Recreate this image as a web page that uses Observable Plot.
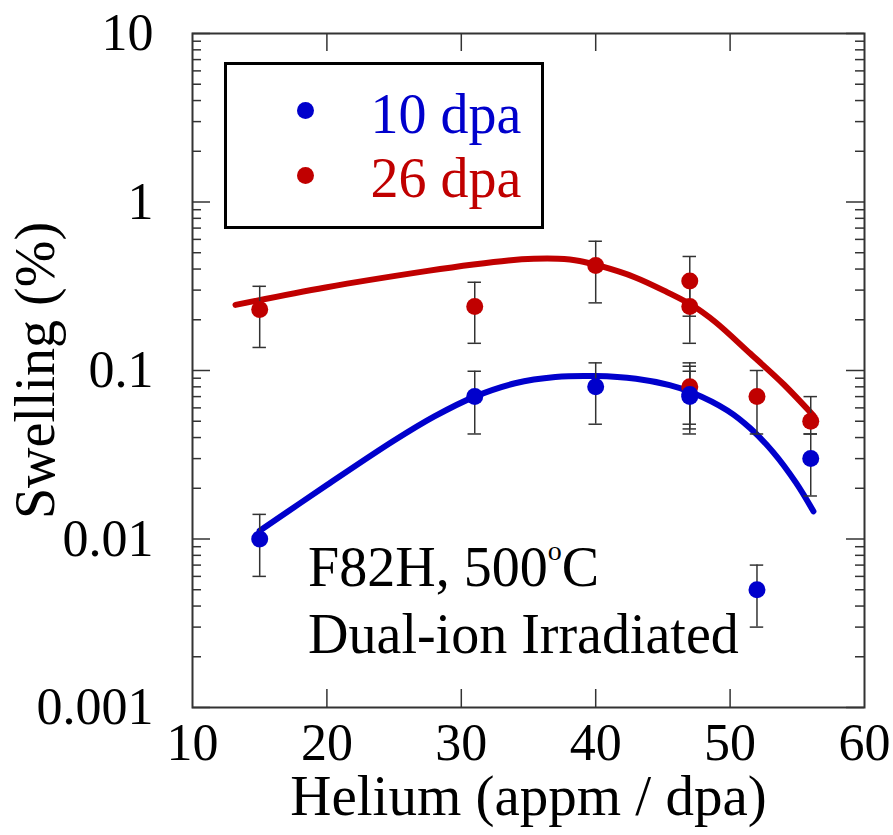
<!DOCTYPE html>
<html>
<head>
<meta charset="utf-8">
<script src="https://cdn.jsdelivr.net/npm/d3@7"></script>
<script src="https://cdn.jsdelivr.net/npm/@observablehq/plot@0.6"></script>
<style>
  html, body { margin: 0; padding: 0; background: #fff; }
  #chart svg { display: block; }
</style>
</head>
<body>
<div id="chart"></div>
<script>
// ---- measured swelling, 10 dpa series ----
const heliumBlue = [15, 31, 40, 47, 47, 52, 56];
const swellBlue  = [0.01, 0.07, 0.08, 0.07, 0.072, 0.005, 0.03];
const errLoBlue  = [0.006, 0.042, 0.048, 0.042, 0.045, 0.003, 0.018];
const errHiBlue  = [0.014, 0.099, 0.111, 0.099, 0.106, 0.007, 0.042];

// ---- measured swelling, 26 dpa series ----
const heliumRed = [15, 31, 40, 47, 47, 47, 52, 56];
const swellRed  = [0.23, 0.24, 0.42, 0.34, 0.24, 0.08, 0.07, 0.05];
const errLoRed  = [0.137, 0.145, 0.252, 0.21, 0.145, 0.048, 0.042, 0.042];
const errHiRed  = [0.316, 0.334, 0.585, 0.475, 0.33, 0.111, 0.1, 0.07];

// ---- fitted trend curves ----
const fitXBlue = [15, 20, 25, 28, 31, 34, 37, 40, 43, 45.5, 47.2, 49.8, 51.5, 53.2, 54.9, 56.2];
const fitYBlue = [0.0112, 0.0209, 0.0384, 0.0534, 0.070, 0.084, 0.0915, 0.0927, 0.0893, 0.0818, 0.0738, 0.0579, 0.0454, 0.0328, 0.0216, 0.0146];
const fitXRed = [13.2, 19.9, 27.5, 30.9, 33.5, 35.4, 37.2, 38.8, 40.2, 42.9, 45.3, 47.2, 48.9, 51.5, 54.0, 56.2];
const fitYRed = [0.245, 0.311, 0.39, 0.426, 0.45, 0.46, 0.46, 0.447, 0.42, 0.358, 0.292, 0.243, 0.194, 0.126, 0.0826, 0.054];

// ---- axes ----
const xTicks = [10, 20, 30, 40, 50, 60];
const xTickLabels = ["10", "20", "30", "40", "50", "60"];
const yTicks = [0.001, 0.01, 0.1, 1, 10];
const yTickLabels = ["0.001", "0.01", "0.1", "1", "10"];
const xTitle = "Helium (appm / dpa)";
const yTitle = "Swelling (%)";
const noteLines = ["F82H, 500\u00b0C", "Dual-ion Irradiated"];
const noteAt = {x: 18.6, y: 0.0021};

const seriesNames = ["10 dpa", "26 dpa"];
const seriesColors = ["#0000cc", "#c00000"];

// ---- layout ----
const W = 893, H = 835;
const margin = {top: 33, right: 29, bottom: 128, left: 192};
const frameW = W - margin.left - margin.right;
const frameH = H - margin.top - margin.bottom;
const serif = "'Liberation Serif', 'Times New Roman', Times, serif";
const axisInk = "#333";
const noteSize = 56;

const series = [
  {name: seriesNames[0], color: seriesColors[0], helium: heliumBlue, swell: swellBlue, lo: errLoBlue, hi: errHiBlue, fitX: fitXBlue, fitY: fitYBlue},
  {name: seriesNames[1], color: seriesColors[1], helium: heliumRed, swell: swellRed, lo: errLoRed, hi: errHiRed, fitX: fitXRed, fitY: fitYRed}
];
const rows = s => s.helium.map((x, i) => ({x, y: s.swell[i], lo: s.lo[i], hi: s.hi[i]}));
const fitRows = s => s.fitX.map((x, i) => ({x, y: s.fitY[i]}));

// minor log ticks 2..9 in each decade
const yMinor = [];
for (const d of [0.001, 0.01, 0.1, 1]) for (let k = 2; k <= 9; ++k) yMinor.push(d * k);
const xInner = xTicks.slice(1, -1);

const capHalf = 0.5;
const allPoints = series.flatMap(rows);

const chart = Plot.plot({
  width: W,
  height: H,
  marginTop: margin.top,
  marginRight: margin.right,
  marginBottom: margin.bottom,
  marginLeft: margin.left,
  axis: null,
  x: {type: "linear", domain: [10, 60]},
  y: {type: "log", domain: [0.001, 10]},
  style: {fontFamily: serif, color: "#000", background: "#fff", overflow: "visible"},
  marks: [
    // inward tick marks on all four sides
    Plot.tickY(yTicks, {y: d => d, insetRight: frameW - 18, stroke: axisInk, strokeWidth: 1.5}),
    Plot.tickY(yTicks, {y: d => d, insetLeft: frameW - 18, stroke: axisInk, strokeWidth: 1.5}),
    Plot.tickY(yMinor, {y: d => d, insetRight: frameW - 9, stroke: axisInk, strokeWidth: 1.5}),
    Plot.tickY(yMinor, {y: d => d, insetLeft: frameW - 9, stroke: axisInk, strokeWidth: 1.5}),
    Plot.tickX(xInner, {x: d => d, insetTop: frameH - 18, stroke: axisInk, strokeWidth: 1.5}),
    Plot.tickX(xInner, {x: d => d, insetBottom: frameH - 18, stroke: axisInk, strokeWidth: 1.5}),

    // tick labels
    Plot.text(yTicks, {y: d => d, text: (d, i) => yTickLabels[i], frameAnchor: "left", dx: -39, textAnchor: "end", fontSize: 52, fontFamily: serif}),
    Plot.text(xTicks, {x: d => d, text: (d, i) => xTickLabels[i], frameAnchor: "bottom", dy: 16, lineAnchor: "top", fontSize: 52, fontFamily: serif}),

    // axis titles
    Plot.text([xTitle], {frameAnchor: "bottom", dy: 107, lineAnchor: "bottom", textAnchor: "middle", fontSize: 57, fontFamily: serif}),
    Plot.text([yTitle], {frameAnchor: "left", dx: -139, rotate: -90, lineAnchor: "bottom", textAnchor: "middle", fontSize: 56, fontFamily: serif}),

    // fitted curves
    ...series.map(s => Plot.line(fitRows(s), {x: "x", y: "y", stroke: s.color, strokeWidth: 6, curve: "catmull-rom"})),

    // error bars with caps
    Plot.ruleX(allPoints, {x: "x", y1: "lo", y2: "hi", stroke: axisInk, strokeWidth: 1.5}),
    Plot.ruleY(allPoints, {y: "hi", x1: d => d.x - capHalf, x2: d => d.x + capHalf, stroke: axisInk, strokeWidth: 1.5}),
    Plot.ruleY(allPoints, {y: "lo", x1: d => d.x - capHalf, x2: d => d.x + capHalf, stroke: axisInk, strokeWidth: 1.5}),

    // data points (26 dpa beneath 10 dpa)
    ...series.slice().reverse().map(s => Plot.dot(rows(s), {x: "x", y: "y", r: 8.5, fill: s.color})),

    // annotation
    Plot.text([noteLines.join("\n")], {x: () => noteAt.x, y: () => noteAt.y, textAnchor: "start", lineAnchor: "bottom", lineHeight: 1.196, fontSize: noteSize, fontFamily: serif}),

    // legend box with entries
    Plot.frame({insetLeft: 33, insetTop: 30, insetRight: 322, insetBottom: 480, stroke: "#000", strokeWidth: 3}),
    ...series.map((s, i) => Plot.dot([s], {frameAnchor: "top-left", dx: 113, dy: 77 + 65 * i, r: 8.5, fill: s.color})),
    ...series.map((s, i) => Plot.text([s.name], {frameAnchor: "top-left", dx: 178, dy: 99 + 64 * i, textAnchor: "start", lineAnchor: "bottom", fontSize: 56, fontFamily: serif, fill: s.color})),

    // plot border
    Plot.frame({stroke: axisInk, strokeWidth: 2})
  ]
});

// render the temperature with a raised "o" as in the original figure
d3.select(chart).selectAll("tspan, text").each(function () {
  if (this.childElementCount === 0 && this.textContent.includes("\u00b0")) {
    const [before, after] = this.textContent.split("\u00b0");
    const sel = d3.select(this);
    sel.text(before);
    sel.append("tspan").attr("font-size", `${Math.round(noteSize * 0.5)}px`).attr("dy", `${-Math.round(noteSize * 0.47)}px`).text("o");
    sel.append("tspan").attr("font-size", `${noteSize}px`).attr("dy", `${Math.round(noteSize * 0.47)}px`).text(after);
  }
});

document.getElementById("chart").appendChild(chart);
</script>
</body>
</html>
